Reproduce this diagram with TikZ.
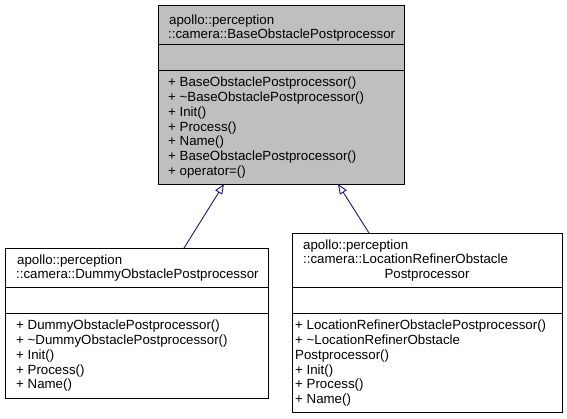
\documentclass[tikz,border=0pt]{standalone}
\usepackage{fontspec}
\setmainfont{Liberation Sans}
\usetikzlibrary{arrows.meta}
\definecolor{edgeblue}{RGB}{25,25,112}
\definecolor{basegray}{RGB}{191,191,191}
\begin{document}
\begin{tikzpicture}[x=1pt,y=-1pt,
  umlbox/.style={draw=black, line width=1pt, inner sep=0pt, anchor=north west},
  txt/.style={anchor=base west, inner sep=0pt, font=\fontsize{13.3}{15}\selectfont},
  ctxt/.style={anchor=base, inner sep=0pt, font=\fontsize{13.3}{15}\selectfont},
  inherit/.style={draw=edgeblue, line width=0.9pt, -{Triangle[open,length=10pt,width=8pt]}}]
\useasboundingbox (0,0) rectangle (567,419);
% Base box
\node[umlbox, fill=basegray, minimum width=246pt, minimum height=179pt] (base) at (158,5) {};
\draw[line width=1pt] (158,45) -- (404,45) (158,71) -- (404,71);
\node[txt] (b1) at (169,25) {apollo::perception};
\node[txt] (b2) at (168,39) {::camera::BaseObstaclePostprocessor};
\foreach \t [count=\i from 0] in {+ BaseObstaclePostprocessor(), + \textasciitilde BaseObstaclePostprocessor(), + Init(), + Process(), + Name(), + BaseObstaclePostprocessor(), + operator=()}
  \node[txt] (bm\i) at (168,87+\i*14.7) {\t};
% Dummy box
\node[umlbox, fill=white, minimum width=263pt, minimum height=150pt] (dummy) at (5,248) {};
\draw[line width=1pt] (5,288) -- (268,288) (5,314) -- (268,314);
\node[txt] (d1) at (17,265) {apollo::perception};
\node[txt] (d2) at (16,279) {::camera::DummyObstaclePostprocessor};
\foreach \t [count=\i from 0] in {+ DummyObstaclePostprocessor(), + \textasciitilde DummyObstaclePostprocessor(), + Init(), + Process(), + Name()}
  \node[txt] (dm\i) at (16,330+\i*14.7) {\t};
% Location box
\node[umlbox, fill=white, minimum width=270pt, minimum height=179pt] (loc) at (292,233) {};
\draw[line width=1pt] (292,288) -- (562,288) (292,314) -- (562,314);
\node[txt] (l1) at (303,250) {apollo::perception};
\node[txt] (l2) at (303,264) {::camera::LocationRefinerObstacle};
\node[ctxt] (l3) at (427,279) {Postprocessor};
\foreach \t [count=\i from 0] in {+ LocationRefinerObstaclePostprocessor(), + \textasciitilde LocationRefinerObstacle, Postprocessor(), + Init(), + Process(), + Name()}
  \node[txt] (lm\i) at (295,330+\i*14.7) {\t};
% connectors
\coordinate (dtop) at (184,248);
\coordinate (btip1) at (224,184);
\coordinate (ltop) at (369,233);
\coordinate (btip2) at (338,184);
\draw[inherit] (dtop) -- (btip1);
\draw[inherit] (ltop) -- (btip2);
\end{tikzpicture}
\end{document}
